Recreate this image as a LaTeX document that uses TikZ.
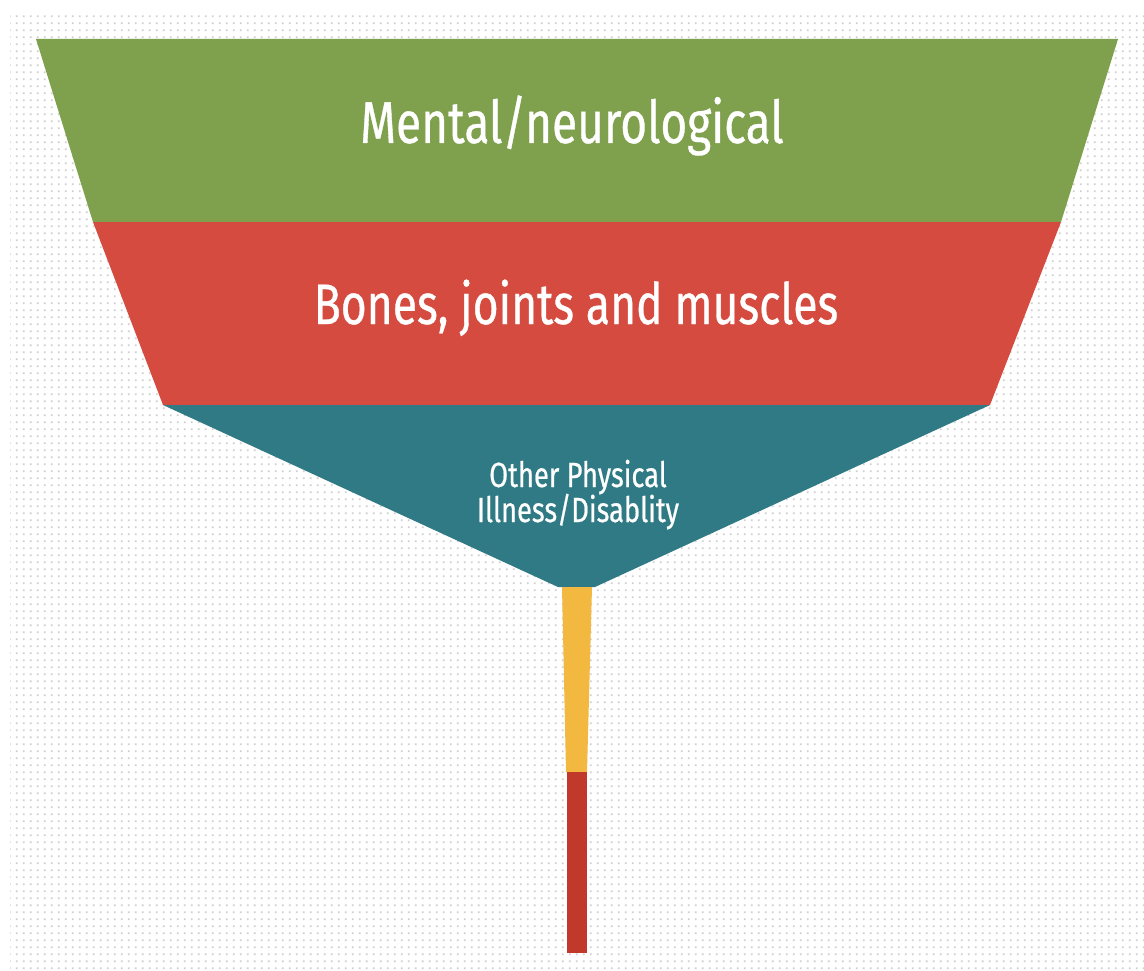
\documentclass[tikz,border=0pt]{standalone}
\usepackage{fontspec}
\usetikzlibrary{patterns.meta}
\newfontfamily\condfont[FakeStretch=0.78,FakeBold=0.6]{Fira Sans}
\definecolor{bandgreen}{HTML}{7FA04C}
\definecolor{bandred}{HTML}{D64B40}
\definecolor{bandteal}{HTML}{2F7A85}
\definecolor{bandyellow}{HTML}{F2B83F}
\definecolor{banddark}{HTML}{C0392B}
\definecolor{dotgray}{HTML}{CFCFCF}
\tikzdeclarepattern{name=bgdots, type=uncolored, bounding box={(0pt,0pt) and (7pt,7pt)}, tile size={(7pt,7pt)}, code={\fill (2pt,2pt) rectangle (4.2pt,4.2pt);}}
\tikzset{
  band/.style={draw=none},
  label/.style={text=white, font=\condfont, inner sep=0pt},
}
\begin{document}
\begin{tikzpicture}[x=1pt, y=-1pt]
\useasboundingbox (0,0) rectangle (1144,971);
\fill[white] (0,0) rectangle (1144,971);
\fill[pattern=bgdots, pattern color=dotgray] (10,14) rectangle (1144,971);
% bands
\fill[band, bandgreen] (36,39) -- (1118,39) -- (1061,222) -- (93,222) -- cycle;
\fill[band, bandred] (93,222) -- (1061,222) -- (990,405) -- (163,405) -- cycle;
\fill[band, bandteal] (163,405) -- (990,405) -- (595,587) -- (558,587) -- cycle;
\fill[band, bandyellow] (562,587) -- (592,587) -- (587,772) -- (566,772) -- cycle;
\fill[band, banddark] (567,772) -- (587,772) -- (587,953) -- (567,953) -- cycle;
% labels
\node[label, anchor=base, font=\condfont\fontsize{59}{60}\selectfont] (mental) at (572,143) {Mental/neurological};
\node[label, anchor=base, font=\condfont\fontsize{57}{58}\selectfont] (bones) at (576,324) {Bones, joints and muscles};
\node[label, anchor=base, font=\condfont\fontsize{35}{36}\selectfont] (other1) at (578,487) {Other Physical};
\node[label, anchor=base, font=\condfont\fontsize{35}{36}\selectfont] (other2) at (578,522) {Illness/Disablity};
\end{tikzpicture}
\end{document}
